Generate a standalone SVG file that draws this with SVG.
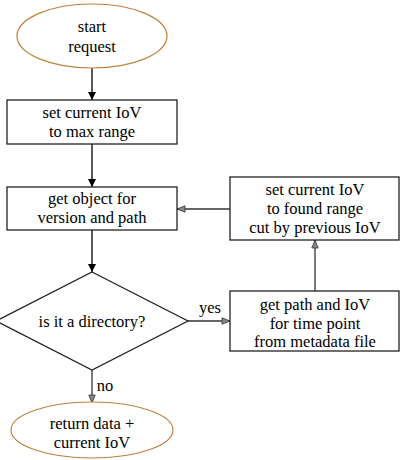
<svg xmlns="http://www.w3.org/2000/svg" width="400" height="460" viewBox="0 0 400 460" font-family="'Liberation Serif', 'Times New Roman', serif">
<defs>
<style>
text{font-family:"Liberation Serif","Times New Roman",serif;font-size:16.5px;fill:#000;text-anchor:middle;dominant-baseline:central}
.box{fill:#fff;stroke:#222;stroke-width:1.3}
.term{fill:#fff;stroke:#c0803f;stroke-width:1.2}
.line{stroke:#000;stroke-width:1.3;fill:none}
.gline{stroke:#333;stroke-width:1.3;fill:none}
</style>
<marker id="ab" viewBox="0 0 10 10" refX="10" refY="5" markerWidth="8" markerHeight="8" markerUnits="userSpaceOnUse" orient="auto">
<path d="M0,0 L10,5 L0,10 z" fill="#000"/>
</marker>
<marker id="ag" viewBox="0 0 12 10" refX="11" refY="5" markerWidth="10" markerHeight="8" markerUnits="userSpaceOnUse" orient="auto">
<path d="M1,1 L11,5 L1,9 z" fill="#888" stroke="#333" stroke-width="1"/>
</marker>
</defs>
<g id="connectors">
<line class="line" x1="92" y1="68" x2="92" y2="100" marker-end="url(#ab)"/>
<line class="line" x1="92" y1="144" x2="92" y2="187" marker-end="url(#ab)"/>
<line class="line" x1="92" y1="230" x2="92" y2="272" marker-end="url(#ab)"/>
<line class="gline" x1="92" y1="370" x2="92" y2="403" marker-end="url(#ag)"/>
<text x="105" y="385">no</text>
<line class="gline" x1="188" y1="321" x2="230" y2="321" marker-end="url(#ag)"/>
<text x="210" y="307">yes</text>
<line class="gline" x1="315" y1="291" x2="315" y2="240" marker-end="url(#ag)"/>
<line class="gline" x1="230" y1="209" x2="177" y2="209" marker-end="url(#ag)"/>
</g>
<g id="start">
<ellipse class="term" cx="92" cy="36" rx="75" ry="32"/>
<text x="92" y="26">start</text>
<text x="92" y="46">request</text>
</g>
<g id="setmax">
<rect class="box" x="7" y="100" width="170" height="44"/>
<text x="92" y="112">set current IoV</text>
<text x="92" y="131">to max range</text>
</g>
<g id="getobject">
<rect class="box" x="7" y="187" width="170" height="43"/>
<text x="92" y="198">get object for</text>
<text x="92" y="217">version and path</text>
</g>
<g id="isdir">
<polygon class="box" points="92,272 188,321 92,370 -4,321"/>
<text x="92" y="321">is it a directory?</text>
</g>
<g id="return">
<ellipse class="term" cx="92" cy="430" rx="81" ry="28"/>
<text x="92" y="423">return data +</text>
<text x="92" y="442">current IoV</text>
</g>
<g id="setfound">
<rect class="box" x="230" y="177" width="169" height="63"/>
<text x="315" y="189">set current IoV</text>
<text x="315" y="208">to found range</text>
<text x="315" y="227">cut by previous IoV</text>
</g>
<g id="getpath">
<rect class="box" x="230" y="291" width="169" height="60"/>
<text x="315" y="304">get path and IoV</text>
<text x="315" y="323">for time point</text>
<text x="315" y="341">from metadata file</text>
</g>
</svg>
